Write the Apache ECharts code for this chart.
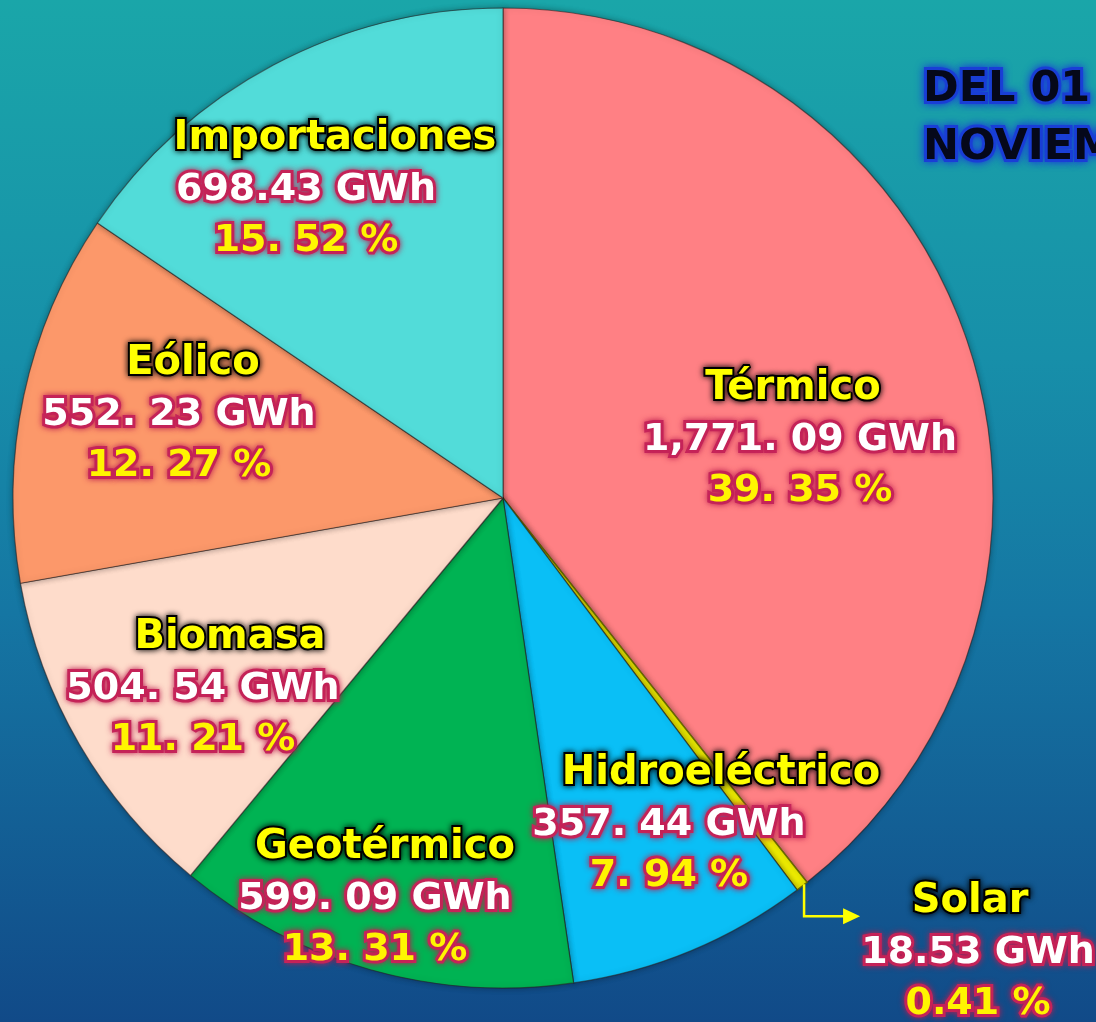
<!DOCTYPE html>
<html>
<head>
<meta charset="utf-8">
<script src="https://cdn.jsdelivr.net/npm/echarts@6/dist/echarts.min.js"></script>
<style>
html,body{margin:0;padding:0;width:1096px;height:1022px;overflow:hidden;}
#c{width:1096px;height:1022px;}
</style>
</head>
<body>
<div id="c"></div>
<script>
// ---- data ----
var categories = ['Térmico','Solar','Hidroeléctrico','Geotérmico','Biomasa','Eólico','Importaciones'];
var valuesGWh = [1771.09, 18.53, 357.44, 599.09, 504.54, 552.23, 698.43];
var valueLabels = ['1,771. 09 GWh','18.53 GWh','357. 44 GWh','599. 09 GWh','504. 54 GWh','552. 23 GWh','698.43 GWh'];
var pctLabels = ['39. 35 %','0.41 %','7. 94 %','13. 31 %','11. 21 %','12. 27 %','15. 52 %'];
var titleLines = ['DEL 01 AL 30 DE', 'NOVIEMBRE'];

// ---- styling / layout config (label anchor points, in px) ----
var colors = ['#FF8084','#F2F000','#0ABFF6','#00B353','#FEDCCB','#FC986A','#52DCD9'];
var labelAnchors = [[800,440],[978,953],[669,825],[375,899],[203,689],[179,415],[306,190]];
var nameShift = [-7,-8,52,10,27,14,29];

var FONT = '"DejaVu Sans", sans-serif';
var chart = echarts.init(document.getElementById('c'), null, {renderer:'canvas'});

var data = categories.map(function(n,i){
  var sh = nameShift[i];
  var rich = {
    n:{color:'#FFFF00',fontFamily:FONT,fontWeight:'bold',fontSize:40,lineHeight:51,
       textBorderColor:'#000',textBorderWidth:4,textShadowColor:'rgba(0,0,0,0.9)',textShadowBlur:6,
       padding: sh>=0 ? [0,0,0,2*sh] : [0,-2*sh,0,0]},
    v:{color:'#FFFFFF',fontFamily:FONT,fontWeight:'bold',fontSize:38,lineHeight:51,
       textBorderColor:'#C7255B',textBorderWidth:6,textShadowColor:'rgba(190,30,80,0.9)',textShadowBlur:6},
    p:{color:'#FFF500',fontFamily:FONT,fontWeight:'bold',fontSize:38,lineHeight:51,
       textBorderColor:'#C7255B',textBorderWidth:6,textShadowColor:'rgba(190,30,80,0.9)',textShadowBlur:6}
  };
  return {
    name:n, value:valuesGWh[i],
    itemStyle:{color:colors[i], borderColor: i===1 ? '#6b6b00' : 'rgba(40,30,30,0.55)', borderWidth: i===1 ? 1.5 : 1.2},
    label:{rich:rich}
  };
});

chart.setOption({
  backgroundColor:{type:'linear',x:0,y:0,x2:0,y2:1,colorStops:[
    {offset:0,color:'#1AA6A9'},{offset:0.35,color:'#178FA9'},{offset:0.6,color:'#1576A3'},{offset:1,color:'#114A88'}]},
  title:{
    text: titleLines.join('\n'), left:918, top:56,
    textStyle:{fontFamily:FONT,fontWeight:'bold',fontSize:43,lineHeight:58,color:'#05081A',
      textBorderColor:'#1A3FD6',textBorderWidth:6,textShadowColor:'#1A3FD6',textShadowBlur:8}
  },
  series:[{
    type:'pie',
    center:[503,498], radius:490,
    startAngle:90, clockwise:true,
    avoidLabelOverlap:false,
    animation:false,
    data:data,
    itemStyle:{shadowBlur:6,shadowColor:'rgba(0,0,0,0.35)'},
    label:{
      show:true, position:'inside', align:'center', verticalAlign:'middle',
      formatter:function(p){
        return '{n|'+p.name+'}\n{v|'+valueLabels[p.dataIndex]+'}\n{p|'+pctLabels[p.dataIndex]+'}';
      }
    },
    labelLine:{show:false},
    labelLayout:function(params){
      var a = labelAnchors[params.dataIndex];
      return {x:a[0], y:a[1], align:'center', verticalAlign:'middle'};
    },
    emphasis:{disabled:true}
  }]
});

// Arrow from Solar slice edge to its label, using the slice layout computed by ECharts
function drawArrow(){
  var seriesData = chart.getModel().getSeriesByIndex(0).getData();
  var lay = seriesData.getItemLayout(1);
  var mid = (lay.startAngle + lay.endAngle)/2;
  var x0 = lay.cx + Math.cos(mid)*lay.r, y0 = lay.cy + Math.sin(mid)*lay.r;
  var x1 = x0 + 2, y1 = y0 + 30, x2 = x1 + 40;
  chart.setOption({graphic:[
    {type:'polyline', z:100, shape:{points:[[x1,y0-2],[x1,y1],[x2,y1]]}, style:{stroke:'#FFFF00',lineWidth:2.5,fill:null}},
    {type:'polygon', z:100, shape:{points:[[x2-1,y1-8],[x2+16,y1],[x2-1,y1+8]]}, style:{fill:'#FFFF00'}}
  ]});
}
drawArrow();
</script>
</body>
</html>
